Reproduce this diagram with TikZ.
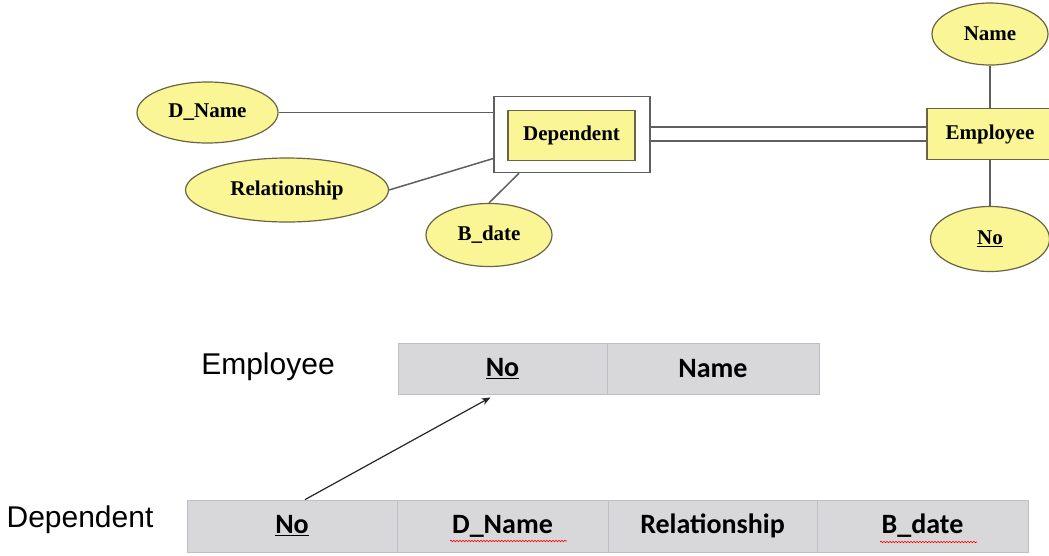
\documentclass[tikz,border=0pt]{standalone}
\usepackage{fontspec}
\setmainfont{Liberation Serif}
\newfontfamily\tabfont{Carlito}
\newfontfamily\labfont{Liberation Sans}
\usetikzlibrary{shapes.geometric,arrows.meta,decorations.pathmorphing}
\definecolor{attrfill}{RGB}{250,246,150}
\definecolor{attrdraw}{RGB}{105,100,70}
\definecolor{erline}{RGB}{95,95,95}
\definecolor{cellfill}{RGB}{216,216,218}
\definecolor{celldraw}{RGB}{190,190,196}
\begin{document}
\begin{tikzpicture}[x=1pt,y=-1pt,
  attr/.style={ellipse, draw=attrdraw, line width=1.2pt, fill=attrfill, inner sep=0pt,
    font=\fontsize{21}{23}\selectfont\bfseries},
  ent/.style={rectangle, draw=attrdraw, line width=1.2pt, fill=attrfill, inner sep=0pt,
    font=\fontsize{21}{23}\selectfont\bfseries},
  outerbox/.style={rectangle, draw=erline, line width=1.5pt, fill=white, inner sep=0pt},
  erl/.style={draw=erline, line width=1.5pt},
  cell/.style={rectangle, draw=celldraw, line width=0.8pt, fill=cellfill, inner sep=0pt,
    font=\tabfont\fontsize{28}{30}\selectfont\bfseries},
  lab/.style={font=\labfont\fontsize{30}{32}\selectfont, inner sep=0pt},
  squig/.style={draw=red, line width=0.6pt, decorate, decoration={snake, amplitude=0.8pt, segment length=3pt}}]
\clip (0,0) rectangle (1049,555);
\fill[white] (0,0) rectangle (1049,555);

% ER diagram
\node[outerbox, minimum width=156pt, minimum height=76pt] (depout) at (572,134.5) {};
\node[ent, minimum width=127pt, minimum height=50pt] (depin) at (571.5,135.5) {Dependent};
\node[ent, minimum width=126pt, minimum height=51pt] (emp) at (990,134) {Employee};

\node[attr, minimum width=141pt, minimum height=61pt] (dname) at (207.5,112.5) {D\_Name};
\node[attr, minimum width=203pt, minimum height=64pt] (rel) at (287,190) {Relationship};
\node[attr, minimum width=126pt, minimum height=63pt] (bdate) at (489,235) {B\_date};
\node[attr, minimum width=116pt, minimum height=62pt] (ename) at (990,34) {Name};
\node[attr, minimum width=119pt, minimum height=65pt] (eno) at (990,239) {\underline{No}};

\draw[erl] (dname.east) -- (dname.east -| depout.west);
\draw[erl] (rel.east) -- ([yshift=-24pt]depout.west);
\draw[erl] (bdate.north) -- ([xshift=-53pt]depout.south);
\draw[erl, double=white, double distance=12.5pt] (emp.west -| depout.east) -- (emp.west);
\draw[erl] (ename) -- (emp);
\draw[erl] (emp) -- (eno);

% Relational tables
\node[lab] (emplab) at (268,367) {Employee};
\node[cell, minimum width=209pt, minimum height=51pt] (empno) at (502.5,368.5) {\underline{No}};
\node[cell, minimum width=212pt, minimum height=51pt] (empname) at (713,368.5) {Name};

\node[lab] (deplab) at (80,520) {Dependent};
\node[cell, minimum width=210pt, minimum height=52pt] (depno) at (292,526) {\underline{No}};
\node[cell, minimum width=211pt, minimum height=52pt] (depdname) at (502.5,526) {D\_Name};
\node[cell, minimum width=209pt, minimum height=52pt] (deprel) at (712.5,526) {Relationship};
\node[cell, minimum width=211pt, minimum height=52pt] (depbdate) at (922.5,526) {B\_date};

\draw[squig] (450,541) -- (567,541);
\draw[squig] (880,542) -- (977,542);

\draw[line width=1.2pt, draw=black!85, -{Stealth[length=9pt,width=7pt]}]
  ([xshift=13pt]depno.north) -- ([xshift=-12pt,yshift=-3pt]empno.south);
\end{tikzpicture}
\end{document}
